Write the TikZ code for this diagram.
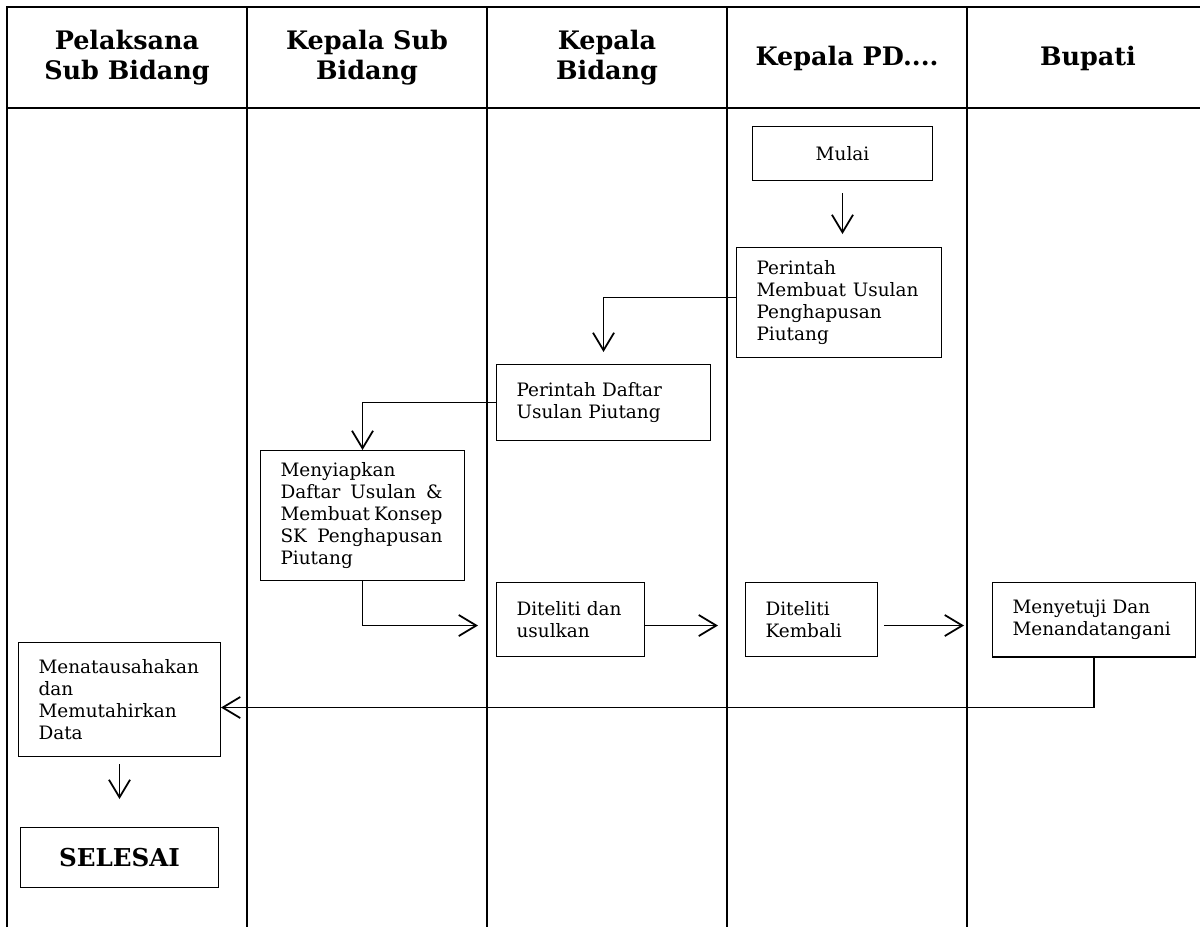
\documentclass[tikz,border=0pt]{standalone}
\usepackage{fontspec}
\setmainfont{DejaVu Serif}
\usetikzlibrary{positioning,calc,arrows.meta}
\newcommand{\bodyfont}{\fontsize{10.5}{12.5}\selectfont}
\newcommand{\headfont}{\fontsize{14.5}{17}\selectfont\bfseries}
\newcommand{\selesaifont}{\fontsize{14}{17}\selectfont\bfseries}
\newcommand{\fullline}[1]{\leavevmode\hbox to 3.24cm{#1}}
\tikzset{block/.style={draw,line width=0.6pt,inner xsep=0.4cm,inner ysep=0pt,align=left,font=\bodyfont},
         head/.style={align=center,font=\headfont},
         lane/.style={line width=1.1pt}
}
\tikzstyle{arrow} = [line width=1pt,-{Straight Barb[length=10pt,width=12pt]}]

\begin{document}
\begin{tikzpicture}[x=0.02cm,y=-0.02cm]
\useasboundingbox (0,0) rectangle (1200,927);

% lanes
\draw[lane] (7,927) -- (7,7) -- (1200,7);
\draw[lane] (7,108) -- (1200,108);
\foreach \x in {247,487,727,967}
  \draw[lane] (\x,7) -- (\x,927);

\node[head] (pelaksana) at (127,58) {Pelaksana\\Sub Bidang};
\node[head] (kasubbid) at (367,58) {Kepala Sub\\Bidang};
\node[head] (kabid) at (607,58) {Kepala\\Bidang};
\node[head] (kapd) at (847,58) {Kepala PD....};
\node[head] (bupatihead) at (1088,58) {Bupati};

% steps
\node[block,anchor=north west,text width=2.8cm,align=center,minimum height=1.08cm] (mulai) at (752,126) {Mulai};
\node[block,below=1.32cm of mulai,xshift=-0.07cm,text width=3.3cm,minimum height=2.2cm] (perintah) {Perintah\\\fullline{Membuat\hfill Usulan}\\Penghapusan\\Piutang};
\node[block,anchor=north west,text width=3.48cm,minimum height=1.52cm] (daftar) at (496,364) {Perintah Daftar\\Usulan Piutang};
\node[block,anchor=north west,text width=3.28cm,minimum height=2.6cm] (siapkan) at (260,450) {Menyiapkan\\\fullline{Daftar\hfill Usulan\hfill \&}\\\fullline{Membuat\hfill Konsep}\\\fullline{SK\hfill Penghapusan}\\Piutang};
\node[block,anchor=north west,text width=2.16cm,minimum height=1.48cm] (diteliti) at (496,582) {Diteliti dan\\usulkan};
\node[block,right=2cm of diteliti,text width=1.84cm,minimum height=1.48cm] (kembali) {Diteliti\\Kembali};
\node[block,right=2.28cm of kembali,text width=3.26cm,minimum height=1.5cm] (bupati) {Menyetuji Dan\\Menandatangani};
\node[block,anchor=north west,text width=3.24cm,minimum height=2.28cm] (menata) at (18,642) {Menatausahakan\\dan\\Memutahirkan\\Data};
\node[block,below=1.4cm of menata,text width=3.16cm,align=center,minimum height=1.2cm,font=\selesaifont] (selesai) {SELESAI};

\draw[arrow,shorten <=0.24cm,shorten >=0.26cm] (mulai) -- (mulai |- perintah.north);
\draw[arrow,shorten >=0.24cm] ($(perintah.west)+(0,-5)$) -| (daftar.north);
\draw[arrow] (daftar.west) -| (siapkan.north);
\draw[arrow,shorten >=0.36cm] (siapkan.south) |- ($(diteliti.west)+(0,6)$);
\draw[arrow,shorten >=0.54cm] ($(diteliti.east)+(0,6)$) -- ($(kembali.west)+(0,6)$);
\draw[arrow,shorten <=0.12cm,shorten >=0.56cm] ($(kembali.east)+(0,6)$) -- ($(bupati.west)+(0,6)$);
\draw[arrow] (bupati.south) |- ($(menata.east)+(0,8)$);
\draw[arrow,shorten <=0.14cm,shorten >=0.56cm] (menata) -- (selesai);

\end{tikzpicture}
\end{document}
